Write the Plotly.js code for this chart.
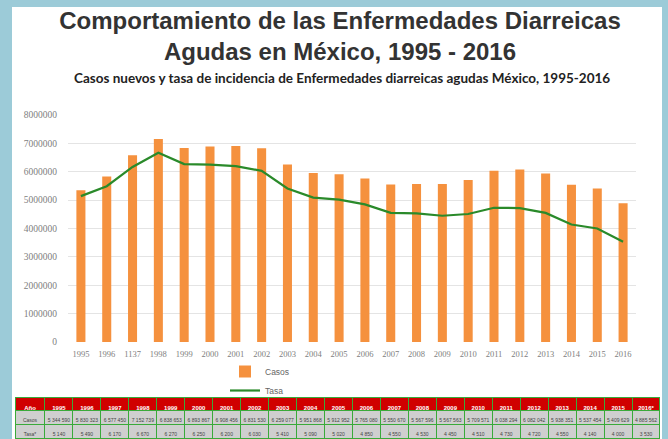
<!DOCTYPE html>
<html>
<head>
<meta charset="utf-8">
<script src="https://cdn.plot.ly/plotly-3.0.1.min.js"></script>
<style>
  html, body { margin: 0; padding: 0; background: #9ccbd8; width: 668px; height: 439px; overflow: hidden; }
  #chart { position: absolute; left: 12px; top: 7px; width: 650px; height: 432px; background: #ffffff; }
</style>
</head>
<body>
<div id="chart"></div>
<script>
// ---- data ----
const years = ['1995','1996','1997','1998','1999','2000','2001','2002','2003','2004','2005',
               '2006','2007','2008','2009','2010','2011','2012','2013','2014','2015','2016'];
const yearTickLabels = ['1995','1996','1137','1998','1999','2000','2001','2002','2003','2004','2005',
               '2006','2007','2008','2009','2010','2011','2012','2013','2014','2015','2016'];
const tableYearLabels = ['1995','1996','1997','1998','1999','2000','2001','2002','2003','2004','2005',
               '2006','2007','2008','2009','2010','2011','2012','2013','2014','2015','2016*'];
const casos = [5344590, 5830323, 6577450, 7152739, 6838653, 6893867, 6908456, 6831530, 6259077, 5951868, 5912952,
               5765080, 5550670, 5567596, 5567563, 5709571, 6038294, 6082042, 5938351, 5537454, 5409629, 4885562];
const tasa = [5140, 5490, 6170, 6670, 6270, 6250, 6200, 6030, 5410, 5090, 5020,
              4850, 4550, 4530, 4450, 4510, 4730, 4720, 4550, 4140, 4000, 3530];
const yTicks = [0, 1000000, 2000000, 3000000, 4000000, 5000000, 6000000, 7000000, 8000000];

const W = 650, H = 432;
function fmt(n) { return String(n).replace(/\B(?=(\d{3})+(?!\d))/g, '\u00a0'); }

const headerVals = ['Año'].concat(tableYearLabels);
const cellCols = [['Casos', 'Tasa*']].concat(casos.map((c, i) => [fmt(c), fmt(tasa[i])]));

const traces = [
  {
    type: 'bar', name: 'Casos', x: years, y: casos,
    marker: { color: '#f5913e' }, xaxis: 'x', yaxis: 'y'
  },
  {
    type: 'scatter', mode: 'lines', name: 'Tasa', x: years, y: tasa,
    line: { color: '#2a8a2a', width: 2.2 }, xaxis: 'x', yaxis: 'y2'
  },
  {
    type: 'table',
    domain: { x: [3 / W, 648 / W], y: [0, 42 / H] },
    columnwidth: [30].concat(years.map(() => 28)),
    header: {
      values: headerVals,
      fill: { color: '#d00000' },
      line: { color: '#3aaa3a', width: 1 },
      font: { color: '#ffffff', size: 6, family: 'Liberation Sans', weight: 'bold' },
      align: 'center', height: 13
    },
    cells: {
      values: cellCols,
      fill: { color: '#cfcfcf' },
      line: { color: '#3aaa3a', width: 1 },
      font: { color: '#444444', size: 5, family: 'Liberation Sans Narrow, Liberation Sans' },
      align: 'center', height: 14
    }
  }
];

const layout = {
  width: W, height: H,
  margin: { l: 0, r: 0, t: 0, b: 0 },
  paper_bgcolor: '#ffffff', plot_bgcolor: '#ffffff',
  title: {
    text: 'Comportamiento de las Enfermedades Diarreicas<br>Agudas en México, 1995 - 2016',
    font: { family: 'Liberation Sans', size: 24, color: '#333333', weight: 'bold' },
    x: 328 / W, xanchor: 'center', xref: 'container',
    y: 1 - 22 / H, yanchor: 'top', yref: 'container'
  },
  annotations: [{
    text: '<b>Casos nuevos y tasa de incidencia de Enfermedades diarreicas agudas México, 1995-2016</b>',
    xref: 'paper', yref: 'paper', x: 330 / W, y: 1 - 71 / H,
    xanchor: 'center', yanchor: 'middle', showarrow: false,
    font: { family: 'Lato', size: 13.5, color: '#222222' }
  }],
  bargap: 0.65,
  showlegend: true,
  legend: {
    x: 213 / W, xanchor: 'left', y: 1 - 350 / H, yanchor: 'top',
    orientation: 'v', font: { size: 8.5, color: '#666666', family: 'Liberation Sans' },
    bgcolor: 'rgba(0,0,0,0)', itemwidth: 30
  },
  xaxis: {
    domain: [56 / W, 624 / W], type: 'category',
    tickmode: 'array', tickvals: years, ticktext: yearTickLabels,
    tickfont: { size: 8.5, color: '#808080', family: 'Liberation Serif' },
    showgrid: false, showline: false, zeroline: false, ticks: '',
    ticklabelstandoff: 5,
    range: [-0.5, 21.5], anchor: 'y'
  },
  yaxis: {
    domain: [(H - 335) / H, (H - 108) / H], range: [0, 8000000],
    tickmode: 'array', tickvals: yTicks, ticktext: yTicks.map(String),
    tickfont: { size: 9.5, color: '#808080', family: 'Liberation Serif' },
    gridcolor: '#e4e4e4', gridwidth: 1, zeroline: false, showline: false, ticks: '',
    ticklabelstandoff: 10, anchor: 'x'
  },
  yaxis2: {
    overlaying: 'y', side: 'right', range: [0, 8000], visible: false,
    showgrid: false, zeroline: false, anchor: 'x'
  }
};

Plotly.newPlot('chart', traces, layout, { displayModeBar: false, staticPlot: true });
</script>
</body>
</html>
